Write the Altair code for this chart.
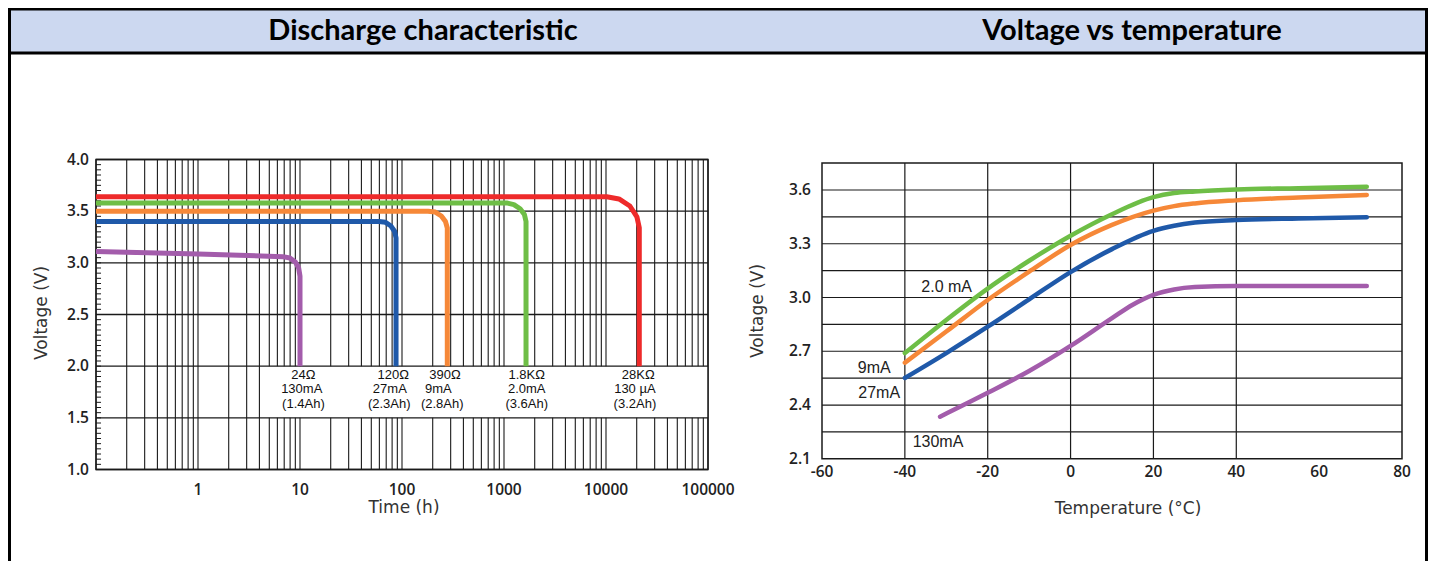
import altair as alt
import pandas as pd

W, H = 1420, 553

# ---------------- shared series / colours ----------------
series_names = ["130mA", "27mA", "9mA", "2.0mA", "130µA"]
series_colors = ["#A35CAB", "#1F59A9", "#F68838", "#6EBE46", "#EE2A2A"]

# ---------------- Discharge characteristic (time h, voltage V) ----------------
d130mA_t = [0.1, 1, 6.8, 7.96, 9.0, 9.7, 10, 10]
d130mA_v = [3.11, 3.085, 3.06, 3.047, 3.008, 2.95, 2.87, 2.0]
d27mA_t = [0.1, 59.5, 68.9, 78.0, 84.8, 87.4, 87.4]
d27mA_v = [3.40, 3.40, 3.392, 3.356, 3.303, 3.24, 2.0]
d9mA_t = [0.1, 180, 212, 243, 267, 278, 278]
d9mA_v = [3.50, 3.50, 3.491, 3.453, 3.399, 3.337, 2.0]
d2mA_t = [0.1, 1063, 1250, 1438, 1585, 1644, 1644]
d2mA_v = [3.58, 3.58, 3.563, 3.523, 3.468, 3.40, 2.0]
d130uA_t = [0.1, 10160, 13400, 17140, 20090, 21200, 21200]
d130uA_v = [3.64, 3.64, 3.618, 3.55, 3.445, 3.34, 2.0]

load_line1 = ["24Ω", "120Ω", "390Ω", "1.8KΩ", "28KΩ"]
load_line2 = ["130mA", "27mA", "9mA", "2.0mA", "130 µA"]
load_line3 = ["(1.4Ah)", "(2.3Ah)", "(2.8Ah)", "(3.6Ah)", "(3.2Ah)"]
load_x1 = [10.8, 82, 264, 1670, 20700]
load_x2 = [10.4, 76, 227, 1670, 19200]
load_x3 = [10.8, 75, 248, 1670, 19200]
load_row_v = [1.914, 1.776, 1.631]

time_ticks = [1, 10, 100, 1000, 10000, 100000]
time_tick_labels = ["1", "10", "100", "1000", "10000", "100000"]
volt_ticks_L = [1.0, 1.5, 2.0, 2.5, 3.0, 3.5, 4.0]

# ---------------- Voltage vs temperature ----------------
t2mA_T = [-40, -30, -20, -10, 0, 10, 20, 25, 30, 40, 55, 71.5]
t2mA_v = [2.69, 2.875, 3.05, 3.205, 3.345, 3.465, 3.56, 3.583, 3.592, 3.603, 3.61, 3.618]
t9mA_T = [-40, -30, -20, -10, 0, 10, 20, 25, 30, 40, 55, 71.5]
t9mA_v = [2.636, 2.81, 2.986, 3.144, 3.293, 3.405, 3.485, 3.51, 3.525, 3.542, 3.558, 3.572]
t27mA_T = [-40, -30, -20, -10, 0, 10, 20, 25, 30, 40, 55, 71.5]
t27mA_v = [2.551, 2.69, 2.837, 2.99, 3.142, 3.27, 3.372, 3.40, 3.418, 3.432, 3.441, 3.448]
t130mA_T = [-31.5, -20, -10, 0, 10, 15, 20, 25, 30, 40, 71.5]
t130mA_v = [2.335, 2.468, 2.59, 2.73, 2.885, 2.96, 3.015, 3.045, 3.058, 3.064, 3.064]

temp_labels = ["2.0 mA", "9mA", "27mA", "130mA"]
temp_label_T = [-29.9, -47.4, -46.2, -32.0]
temp_label_v = [3.06, 2.605, 2.466, 2.195]

temp_ticks = [-60, -40, -20, 0, 20, 40, 60, 80]
temp_tick_labels = ["-60", "-40", "-20", "0", "20", "40", "60", "80"]
temp_grid_T = [-40, -20, 0, 20, 40]
volt_ticks_R = [2.1, 2.4, 2.7, 3.0, 3.3, 3.6]
volt_grid_R = [2.25, 2.4, 2.55, 2.7, 2.85, 3.0, 3.15, 3.3, 3.45, 3.6]

# ---------------- build tables ----------------
def series_frame(xs, vs, name, xname):
    return pd.DataFrame({xname: xs, "v": vs, "s": name, "i": range(len(xs))})

dis_df = pd.concat([
    series_frame(d130mA_t, d130mA_v, "130mA", "t"),
    series_frame(d27mA_t, d27mA_v, "27mA", "t"),
    series_frame(d9mA_t, d9mA_v, "9mA", "t"),
    series_frame(d2mA_t, d2mA_v, "2.0mA", "t"),
    series_frame(d130uA_t, d130uA_v, "130µA", "t"),
], ignore_index=True)

tmp_df = pd.concat([
    series_frame(t2mA_T, t2mA_v, "2.0mA", "T"),
    series_frame(t9mA_T, t9mA_v, "9mA", "T"),
    series_frame(t27mA_T, t27mA_v, "27mA", "T"),
    series_frame(t130mA_T, t130mA_v, "130mA", "T"),
], ignore_index=True)

lab_df = pd.DataFrame({
    "t": load_x1 + load_x2 + load_x3,
    "v": [load_row_v[0]] * 5 + [load_row_v[1]] * 5 + [load_row_v[2]] * 5,
    "txt": load_line1 + load_line2 + load_line3,
})

vgrid_L = pd.DataFrame({"t": [m * 10.0 ** k for k in range(-1, 5) for m in range(1, 10)] + [100000.0],
                        "v1": 1.0, "v2": 4.0})
hgrid_L = pd.DataFrame({"v": volt_ticks_L, "t1": 0.1, "t2": 100000.0})
minor_L = pd.DataFrame({"v": [round(1.0 + 0.05 * i, 2) for i in range(61)], "t1": 0.1, "t2": 0.112})
box_L = pd.DataFrame({"t1": [4.8], "t2": [100000.0], "v1": [1.5], "v2": [2.0]})
frame_L = pd.DataFrame({"t1": [0.1], "t2": [100000.0], "v1": [1.0], "v2": [4.0]})
xt_L = pd.DataFrame({"t": time_ticks, "v": 1.0, "lab": time_tick_labels})
yt_L = pd.DataFrame({"v": volt_ticks_L, "t": 0.1})

vgrid_R = pd.DataFrame({"T": temp_grid_T, "v1": 2.1, "v2": 3.75})
hgrid_R = pd.DataFrame({"v": volt_grid_R, "T1": -60, "T2": 80})
frame_R = pd.DataFrame({"T1": [-60], "T2": [80], "v1": [2.1], "v2": [3.75]})
xt_R = pd.DataFrame({"T": temp_ticks, "v": 2.1, "lab": temp_tick_labels})
yt_R = pd.DataFrame({"v": volt_ticks_R, "T": -60})
tlab_df = pd.DataFrame({"T": temp_label_T, "v": temp_label_v, "txt": temp_labels})

# ---------------- scales ----------------
xs_L = alt.Scale(type="log", domain=[0.1, 100000], range=[88, 700], nice=False)
ys_L = alt.Scale(domain=[1.0, 4.0], range=[461.5, 151.5], nice=False, zero=False)
xs_R = alt.Scale(domain=[-60, 80], range=[814, 1394], nice=False, zero=False)
ys_R = alt.Scale(domain=[2.1, 3.75], range=[450.8, 155.1], nice=False, zero=False)
col = alt.Color("s:N", scale=alt.Scale(domain=series_names, range=series_colors), legend=None)

TITLE_FONT = "DejaVu Sans"
GRID = "#1a1a1a"


def XL(f):
    return alt.X(f, scale=xs_L, axis=None)


def YL(f):
    return alt.Y(f, scale=ys_L, axis=None)


def XR(f):
    return alt.X(f, scale=xs_R, axis=None)


def YR(f):
    return alt.Y(f, scale=ys_R, axis=None)


tick_style = dict(font="Open Sans", fontWeight=600, fontSize=15.5, color="#222")

# ---------------- left panel ----------------
L_vgrid = alt.Chart(vgrid_L).mark_rule(color=GRID, strokeWidth=1.1).encode(
    x=XL("t:Q"), y=YL("v1:Q"), y2="v2:Q")
L_minor = alt.Chart(minor_L).mark_rule(color=GRID, strokeWidth=1).encode(
    x=XL("t1:Q"), x2="t2:Q", y=YL("v:Q"))
L_box = alt.Chart(box_L).mark_rect(color="white").encode(
    x=XL("t1:Q"), x2="t2:Q", y=YL("v1:Q"), y2="v2:Q")
L_hgrid = alt.Chart(hgrid_L).mark_rule(color=GRID, strokeWidth=1.3).encode(
    x=XL("t1:Q"), x2="t2:Q", y=YL("v:Q"))
L_frame = alt.Chart(frame_L).mark_rect(fill=None, stroke=GRID, strokeWidth=1.5).encode(
    x=XL("t1:Q"), x2="t2:Q", y=YL("v1:Q"), y2="v2:Q")
L_lines = alt.Chart(dis_df).mark_line(strokeWidth=5, strokeCap="butt", strokeJoin="round").encode(
    x=XL("t:Q"), y=YL("v:Q"), color=col, detail="s:N", order="i:Q")
L_labels = alt.Chart(lab_df).mark_text(font="Liberation Sans Narrow, Liberation Sans, sans-serif",
                                       fontSize=13, color="#111", baseline="middle", align="center").encode(
    x=XL("t:Q"), y=YL("v:Q"), text="txt:N")
L_xticks = alt.Chart(xt_L).mark_text(align="center", baseline="middle", dy=20, **tick_style).encode(
    x=XL("t:Q"), y=YL("v:Q"), text="lab:N")
L_yticks = alt.Chart(yt_L).mark_text(align="right", baseline="middle", dx=-7, **tick_style).encode(
    x=XL("t:Q"), y=YL("v:Q"), text=alt.Text("v:Q", format=".1f"))
left = alt.layer(L_vgrid, L_minor, L_box, L_hgrid, L_frame, L_lines, L_labels, L_xticks, L_yticks)

# ---------------- right panel ----------------
R_vgrid = alt.Chart(vgrid_R).mark_rule(color=GRID, strokeWidth=1.2).encode(
    x=XR("T:Q"), y=YR("v1:Q"), y2="v2:Q")
R_hgrid = alt.Chart(hgrid_R).mark_rule(color=GRID, strokeWidth=1.2).encode(
    x=XR("T1:Q"), x2="T2:Q", y=YR("v:Q"))
R_frame = alt.Chart(frame_R).mark_rect(fill=None, stroke=GRID, strokeWidth=1.5).encode(
    x=XR("T1:Q"), x2="T2:Q", y=YR("v1:Q"), y2="v2:Q")
R_lines = alt.Chart(tmp_df).mark_line(strokeWidth=4.5, strokeCap="round", interpolate="monotone").encode(
    x=XR("T:Q"), y=YR("v:Q"), color=col, detail="s:N", order="i:Q")
R_labels = alt.Chart(tlab_df).mark_text(font="Liberation Sans", fontSize=16, color="#222",
                                        baseline="middle", align="center").encode(
    x=XR("T:Q"), y=YR("v:Q"), text="txt:N")
R_xticks = alt.Chart(xt_R).mark_text(align="center", baseline="middle", dy=13, **tick_style).encode(
    x=XR("T:Q"), y=YR("v:Q"), text="lab:N")
R_yticks = alt.Chart(yt_R).mark_text(align="right", baseline="middle", dx=-11, **tick_style).encode(
    x=XR("T:Q"), y=YR("v:Q"), text=alt.Text("v:Q", format=".1f"))
right = alt.layer(R_vgrid, R_hgrid, R_frame, R_lines, R_labels, R_xticks, R_yticks)

# ---------------- page frame, header, axis titles ----------------
one = pd.DataFrame({"k": [0]})
header_band = alt.Chart(one).mark_rect(color="#CCD8F0").encode(
    x=alt.value(0), x2=alt.value(W), y=alt.value(1), y2=alt.value(44))
header_line = alt.Chart(one).mark_rule(color="black", strokeWidth=3).encode(
    x=alt.value(0), x2=alt.value(W), y=alt.value(45))
top_line = alt.Chart(one).mark_rule(color="black", strokeWidth=3).encode(
    x=alt.value(0), x2=alt.value(W), y=alt.value(1))
left_line = alt.Chart(one).mark_rule(color="black", strokeWidth=3).encode(
    x=alt.value(1.5), y=alt.value(0), y2=alt.value(H))
right_line = alt.Chart(one).mark_rule(color="black", strokeWidth=3).encode(
    x=alt.value(W - 1.5), y=alt.value(0), y2=alt.value(H))

head_style = dict(font="Lato", fontWeight="bold", fontSize=29, color="black", align="center", baseline="middle")
title_L = alt.Chart(one).mark_text(text="Discharge characteristic", **head_style).encode(
    x=alt.value(415), y=alt.value(23))
title_R = alt.Chart(one).mark_text(text="Voltage vs temperature", **head_style).encode(
    x=alt.value(1124), y=alt.value(23))

ax_style = dict(font=TITLE_FONT, fontSize=17, color="#333", align="center", baseline="middle")
ytitle_L = alt.Chart(one).mark_text(text="Voltage (V)", angle=270, **ax_style).encode(
    x=alt.value(34), y=alt.value(305))
xtitle_L = alt.Chart(one).mark_text(text="Time (h)", **ax_style).encode(
    x=alt.value(396), y=alt.value(500))
ytitle_R = alt.Chart(one).mark_text(text="Voltage (V)", angle=270, **ax_style).encode(
    x=alt.value(750), y=alt.value(303))
xtitle_R = alt.Chart(one).mark_text(text="Temperature (°C)", **ax_style).encode(
    x=alt.value(1120), y=alt.value(501))

chart = alt.layer(
    header_band, header_line, top_line, left_line, right_line, title_L, title_R,
    ytitle_L, xtitle_L, ytitle_R, xtitle_R, left, right
).resolve_scale(x="independent", y="independent").properties(
    width=W, height=H, padding=0, background="white",
    autosize=alt.AutoSizeParams(type="none")
).configure_view(stroke=None)

chart.save("out.html", embed_options={"renderer": "svg", "actions": False})
